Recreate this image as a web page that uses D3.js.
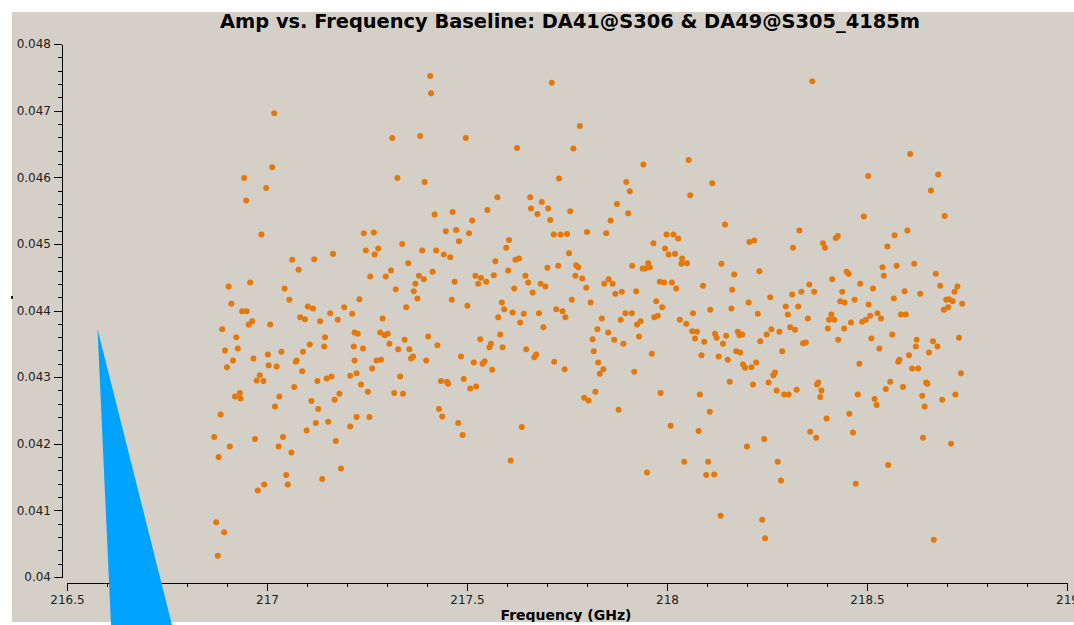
<!DOCTYPE html>
<html>
<head>
<meta charset="utf-8">
<script src="https://cdn.jsdelivr.net/npm/d3@7"></script>
<style>
  body { margin: 0; background: #ffffff; }
  svg { display: block; }
  .axis text { font-family: "DejaVu Sans", sans-serif; font-size: 12px; fill: #222; }
  .axis path, .axis line { stroke: #000; shape-rendering: crispEdges; }
</style>
</head>
<body>
<svg id="chart" width="1074" height="625"></svg>
<script>
// Channel frequencies (GHz) and visibility amplitudes, one entry per channel
const frequency = [
  217.408,217.410,217.018,217.313,217.383,217.013,216.943,216.998,216.948,217.326,
  217.394,216.986,217.419,217.464,217.447,217.473,217.242,217.267,217.338,217.247,
  217.278,217.269,217.388,217.423,217.442,217.458,217.165,217.063,217.118,217.079,
  217.353,217.310,217.297,217.258,217.380,217.392,217.371,217.414,217.469,217.367,
  217.376,217.322,217.462,216.904,216.958,217.044,217.056,216.911,216.938,216.949,
  217.231,217.102,217.115,217.193,217.348,
  216.954,216.963,217.008,216.888,216.923,216.895,216.927,216.915,216.900,216.966,
  217.002,217.004,217.024,217.036,216.982,216.974,216.991,216.920,216.932,216.934,
  216.884,217.031,217.020,217.068,216.868,216.907,216.879,216.970,217.040,217.029,
  217.061,217.048,217.052,216.993,216.977,216.873,216.893,216.877,217.083,217.095,
  217.133,217.158,217.177,217.213,217.289,217.107,217.145,217.143,217.090,217.074,
  217.072,217.088,217.126,217.149,217.161,217.111,217.128,217.122,217.099,217.153,
  217.169,217.181,217.172,217.185,217.138,217.217,217.219,217.208,217.224,217.219,
  217.227,217.240,217.263,217.274,217.285,217.235,217.252,217.224,217.256,217.208,
  217.283,217.294,217.302,217.306,217.328,217.344,217.356,217.360,217.365,217.398,
  217.403,217.426,217.333,217.318,217.340,217.435,217.450,217.453,217.430,217.438,
  217.712,217.782,217.497,217.625,217.766,217.941,218.054,217.730,217.898,217.907,
  218.058,217.576,217.658,217.687,217.660,217.703,217.676,217.708,217.758,217.875,
  217.903,217.859,217.551,217.513,217.505,217.480,217.605,217.598,217.717,217.734,
  217.750,217.800,217.848,217.966,217.999,218.016,218.028,217.995,218.004,218.020,
  218.038,218.036,218.050,217.755,217.621,217.630,217.571,217.603,217.567,217.521,
  217.535,217.528,217.548,217.701,217.728,217.773,217.778,217.771,217.788,217.646,
  217.653,217.684,217.696,217.618,217.664,217.798,217.854,217.843,217.864,217.913,
  217.939,217.945,217.953,217.957,217.887,217.871,217.923,217.982,217.993,218.012,
  218.023,218.090,217.973,217.988,218.108,217.762,217.809,217.587,217.501,217.593,
  217.723,217.739,
  217.614,217.642,217.680,217.746,217.578,217.633,217.691,217.837,217.896,217.912,
  217.884,217.934,217.925,217.968,217.977,218.032,218.048,218.065,218.063,218.075,
  218.070,218.093,218.086,217.533,217.583,217.560,217.556,217.589,217.485,217.517,
  217.539,217.544,217.563,217.492,217.508,217.523,217.478,217.489,217.637,217.609,
  217.648,217.668,217.673,217.718,217.744,217.814,217.826,217.853,217.868,217.891,
  217.930,217.817,217.828,217.841,217.832,217.821,217.793,217.804,217.879,217.918,
  217.962,217.984,218.009,217.950,218.082,218.107,218.079,218.043,218.103,218.098,
  218.363,218.608,218.503,218.678,218.660,218.113,218.492,218.694,218.145,218.331,
  218.206,218.218,218.315,218.390,218.395,218.422,218.427,218.569,218.601,218.551,
  218.136,218.168,218.231,218.163,218.161,218.204,218.258,218.313,218.336,218.356,
  218.368,218.297,218.328,218.413,218.449,218.454,218.438,218.433,218.444,218.469,
  218.483,218.515,218.504,218.539,218.542,218.574,218.618,218.672,218.683,218.726,
  218.719,218.594,218.567,218.633,218.698,218.705,218.714,218.738,218.703,218.692,
  218.227,218.302,218.352,218.411,218.405,218.418,218.508,218.526,218.535,218.488,
  218.497,218.585,218.597,218.120,218.124,218.148,218.140,218.129,218.152,218.177,
  218.181,218.188,218.173,218.183,218.190,218.195,218.211,218.223,218.157,218.215,
  218.233,218.249,218.261,218.281,218.288,218.308,218.320,218.340,218.347,218.266,
  218.270,218.254,218.274,218.293,218.304,218.324,218.375,218.378,218.386,218.383,
  218.402,218.428,218.443,218.460,218.481,218.477,218.456,218.399,218.358,218.373,
  218.465,218.472,218.243,218.200,218.277,218.285,218.118,218.134,218.238,218.245,
  218.511,218.531,218.563,218.519,218.524,218.547,218.558,218.590,218.578,218.581,
  218.605,218.613,218.628,218.622,218.624,218.655,218.665,218.676,218.730,218.735,
  218.721,218.688,218.648,218.651,218.638,218.644,218.640,218.710,218.553,218.667
];

const amplitude = [
  0.04752,0.04726,0.04696,0.04659,0.04662,0.04615,0.04599,0.04584,0.04565,0.04599,
  0.04593,0.04514,0.04544,0.04548,0.04519,0.04521,0.04516,0.04517,0.04500,0.04490,
  0.04493,0.04484,0.04490,0.04490,0.04484,0.04480,0.04485,0.04476,0.04477,0.04461,
  0.04471,0.04460,0.04451,0.04451,0.04452,0.04447,0.04440,0.04458,0.04443,0.04429,
  0.04418,0.04432,0.04416,0.04436,0.04442,0.04433,0.04416,0.04410,0.04399,0.04399,
  0.04417,0.04406,0.04403,0.04405,0.04405,
  0.04379,0.04384,0.04379,0.04372,0.04360,0.04340,0.04343,0.04325,0.04315,0.04328,
  0.04334,0.04318,0.04316,0.04338,0.04303,0.04295,0.04294,0.04271,0.04276,0.04268,
  0.04244,0.04271,0.04256,0.04285,0.04210,0.04196,0.04180,0.04207,0.04210,0.04196,
  0.04187,0.04153,0.04139,0.04139,0.04130,0.04082,0.04067,0.04032,0.04390,0.04387,
  0.04384,0.04396,0.04386,0.04395,0.04388,0.04349,0.04360,0.04346,0.04338,0.04325,
  0.04323,0.04309,0.04294,0.04298,0.04301,0.04264,0.04252,0.04231,0.04220,0.04233,
  0.04266,0.04275,0.04204,0.04163,0.04147,0.04346,0.04325,0.04302,0.04306,0.04367,
  0.04365,0.04343,0.04313,0.04325,0.04326,0.04289,0.04278,0.04240,0.04240,0.04226,
  0.04367,0.04363,0.04365,0.04350,0.04342,0.04356,0.04342,0.04328,0.04331,0.04325,
  0.04361,0.04348,0.04301,0.04276,0.04275,0.04294,0.04293,0.04290,0.04252,0.04241,
  0.04742,0.04677,0.04659,0.04644,0.04643,0.04619,0.04626,0.04598,0.04593,0.04579,
  0.04573,0.04570,0.04570,0.04563,0.04553,0.04553,0.04545,0.04536,0.04549,0.04560,
  0.04546,0.04535,0.04551,0.04535,0.04516,0.04504,0.04506,0.04494,0.04514,0.04514,
  0.04515,0.04518,0.04516,0.04501,0.04514,0.04514,0.04508,0.04493,0.04484,0.04485,
  0.04478,0.04470,0.04471,0.04486,0.04476,0.04478,0.04474,0.04460,0.04453,0.04452,
  0.04449,0.04440,0.04443,0.04464,0.04467,0.04468,0.04465,0.04452,0.04448,0.04452,
  0.04442,0.04440,0.04436,0.04433,0.04427,0.04434,0.04447,0.04440,0.04440,0.04467,
  0.04463,0.04463,0.04471,0.04465,0.04428,0.04425,0.04429,0.04443,0.04442,0.04442,
  0.04433,0.04437,0.04414,0.04405,0.04401,0.04416,0.04412,0.04412,0.04407,0.04402,
  0.04402,0.04399,
  0.04397,0.04395,0.04396,0.04390,0.04390,0.04382,0.04375,0.04388,0.04396,0.04396,
  0.04386,0.04384,0.04379,0.04390,0.04392,0.04386,0.04380,0.04396,0.04369,0.04368,
  0.04358,0.04353,0.04333,0.04357,0.04364,0.04350,0.04345,0.04345,0.04331,0.04322,
  0.04320,0.04324,0.04311,0.04297,0.04283,0.04286,0.04231,0.04213,0.04225,0.04175,
  0.04342,0.04330,0.04334,0.04323,0.04312,0.04357,0.04372,0.04367,0.04356,0.04350,
  0.04361,0.04339,0.04322,0.04312,0.04305,0.04278,0.04269,0.04265,0.04251,0.04308,
  0.04335,0.04276,0.04227,0.04157,0.04274,0.04248,0.04219,0.04173,0.04173,0.04153,
  0.04744,0.04635,0.04602,0.04604,0.04580,0.04591,0.04541,0.04542,0.04529,0.04520,
  0.04503,0.04505,0.04494,0.04501,0.04494,0.04509,0.04512,0.04513,0.04520,0.04496,
  0.04470,0.04454,0.04459,0.04431,0.04403,0.04412,0.04420,0.04424,0.04428,0.04439,
  0.04428,0.04406,0.04406,0.04447,0.04458,0.04455,0.04428,0.04414,0.04412,0.04416,
  0.04440,0.04433,0.04409,0.04465,0.04452,0.04467,0.04470,0.04455,0.04437,0.04436,
  0.04428,0.04429,0.04418,0.04425,0.04416,0.04417,0.04414,0.04410,0.04405,0.04401,
  0.04395,0.04394,0.04388,0.04394,0.04386,0.04386,0.04392,0.04396,0.04388,0.04383,
  0.04386,0.04394,0.04394,0.04365,0.04359,0.04362,0.04350,0.04331,0.04326,0.04368,
  0.04363,0.04364,0.04339,0.04337,0.04319,0.04314,0.04315,0.04322,0.04293,0.04289,
  0.04354,0.04364,0.04372,0.04368,0.04339,0.04375,0.04371,0.04351,0.04352,0.04303,
  0.04307,0.04292,0.04280,0.04274,0.04274,0.04281,0.04289,0.04292,0.04280,0.04270,
  0.04373,0.04356,0.04373,0.04382,0.04320,0.04274,0.04245,0.04238,0.04218,0.04209,
  0.04217,0.04140,0.04207,0.04196,0.04173,0.04145,0.04154,0.04092,0.04086,0.04058,
  0.04358,0.04343,0.04364,0.04267,0.04258,0.04282,0.04293,0.04285,0.04323,0.04326,
  0.04333,0.04313,0.04313,0.04346,0.04356,0.04337,0.04354,0.04346,0.04359,0.04306,
  0.04274,0.04266,0.04292,0.04290,0.04272,0.04256,0.04209,0.04200,0.04168,0.04056
];

// Axis ticks and labels
const xTickValues = [216.5, 217, 217.5, 218, 218.5, 219];
const xTickLabels = ["216.5", "217", "217.5", "218", "218.5", "219"];
const yTickValues = [0.040, 0.041, 0.042, 0.043, 0.044, 0.045, 0.046, 0.047, 0.048];
const yTickLabels = ["0.04", "0.041", "0.042", "0.043", "0.044", "0.045", "0.046", "0.047", "0.048"];

const titleText = "Amp vs. Frequency Baseline: DA41@S306 & DA49@S305_4185m";
const xAxisTitle = "Frequency (GHz)";

const W = 1074, H = 625;
const svg = d3.select("#chart");

// Plot canvas
svg.append("rect")
  .attr("x", 12).attr("y", 12)
  .attr("width", W - 12).attr("height", 610)
  .attr("fill", "#d4d0c8");

const x = d3.scaleLinear().domain([216.5, 219]).range([67, 1067]);
const y = d3.scaleLinear().domain([0.040, 0.048]).range([577, 44]);

// Minor ticks
const xMinor = d3.range(0, 26).map(i => 216.5 + i * 0.1);
const yMinor = d3.range(0, 41).map(i => 0.040 + i * 0.0002);

svg.append("g").attr("class", "axis")
  .attr("transform", "translate(0,583)")
  .call(d3.axisBottom(x).tickValues(xMinor).tickSize(4).tickSizeOuter(0).tickFormat(""));

svg.append("g").attr("class", "axis")
  .attr("transform", "translate(62,0)")
  .call(d3.axisLeft(y).tickValues(yMinor).tickSize(4).tickSizeOuter(0).tickFormat(""));

// Major ticks with labels
svg.append("g").attr("class", "axis")
  .attr("transform", "translate(0,583)")
  .call(d3.axisBottom(x).tickValues(xTickValues).tickSize(8).tickSizeOuter(0).tickPadding(4)
    .tickFormat((d, i) => xTickLabels[i]));

svg.append("g").attr("class", "axis")
  .attr("transform", "translate(62,0)")
  .call(d3.axisLeft(y).tickValues(yTickValues).tickSize(8).tickSizeOuter(0).tickPadding(3)
    .tickFormat((d, i) => yTickLabels[i]));

// Points
const points = frequency.map((f, i) => ({ f, a: amplitude[i] }));
svg.append("g")
  .selectAll("circle")
  .data(points)
  .join("circle")
  .attr("cx", d => x(d.f))
  .attr("cy", d => y(d.a))
  .attr("r", 3)
  .attr("fill", "#e5780a");

// Title
svg.append("text")
  .attr("x", 570).attr("y", 28)
  .attr("text-anchor", "middle")
  .style("font-family", "'DejaVu Sans', sans-serif")
  .style("font-weight", "bold")
  .style("font-size", "19.4px")
  .attr("fill", "#000")
  .text(titleText);

// X axis title
svg.append("text")
  .attr("x", 566).attr("y", 620)
  .attr("text-anchor", "middle")
  .style("font-family", "'DejaVu Sans', sans-serif")
  .style("font-weight", "bold")
  .style("font-size", "14px")
  .attr("fill", "#000")
  .text(xAxisTitle);

// Bottom border strip
svg.append("rect")
  .attr("x", 0).attr("y", 622)
  .attr("width", W).attr("height", 3)
  .attr("fill", "#ffffff");

// Pointer wedge over the lower-left corner
svg.append("path")
  .attr("d", "M97.5,329 L172,625 L111,625 Z")
  .attr("fill", "#00a3ff");

// Small marker on the left border
svg.append("rect")
  .attr("x", 11).attr("y", 296)
  .attr("width", 2).attr("height", 3)
  .attr("fill", "#222");
</script>
</body>
</html>
